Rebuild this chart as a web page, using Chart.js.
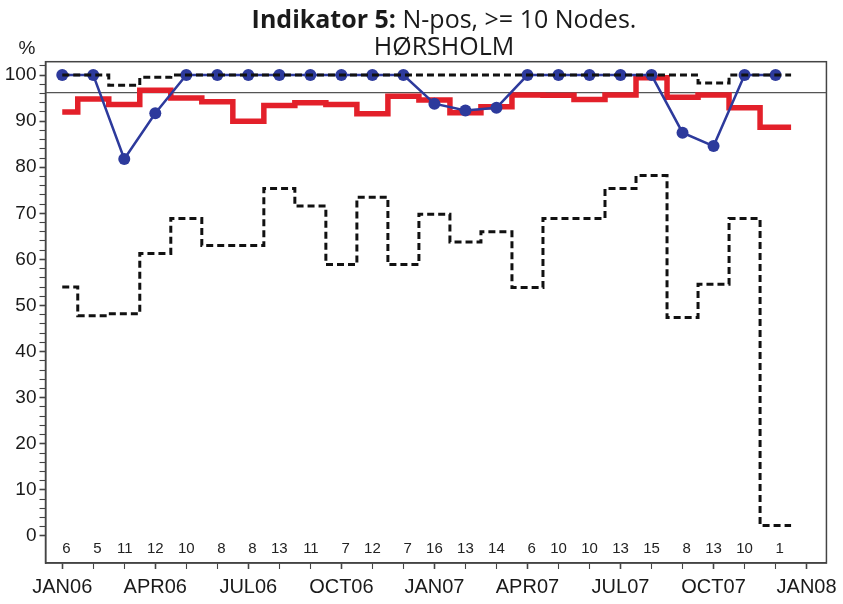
<!DOCTYPE html>
<html>
<head>
<meta charset="utf-8">
<script src="https://cdn.jsdelivr.net/npm/chart.js@4"></script>
<style>
  html, body { margin: 0; padding: 0; background: #fff; }
  #wrap { width: 843px; height: 604px; }
</style>
</head>
<body>
<div id="wrap"><canvas id="graf"></canvas></div>
<script>
// maaneder jan06 - dec07
const maaneder = ['JAN06','FEB06','MAR06','APR06','MAY06','JUN06','JUL06','AUG06','SEP06','OCT06','NOV06','DEC06',
                  'JAN07','FEB07','MAR07','APR07','MAY07','JUN07','JUL07','AUG07','SEP07','OCT07','NOV07','DEC07'];
const tickLabels = ['JAN06','APR06','JUL06','OCT06','JAN07','APR07','JUL07','OCT07','JAN08'];
const antal = [6,5,11,12,10,8,8,13,11,7,12,7,16,13,14,6,10,10,13,15,8,13,10,1];
const hoersholm = [100,100,81.8,91.7,100,100,100,100,100,100,100,100,93.8,92.3,92.9,100,100,100,100,100,87.5,84.6,100,100];
const landet = [92,94.8,93.6,96.7,95,94.2,90,93.4,94,93.6,91.6,95.4,94.6,91.8,93.1,95.7,95.6,94.7,95.7,99.4,95.2,95.7,92.9,88.7];
const maks = [100,100,97.8,99.5,100,100,100,100,100,100,100,100,100,100,100,100,100,100,100,100,100,98.3,100,100];
const mini = [54,47.8,48.2,61.3,68.9,63,63,75.4,71.6,58.9,73.5,58.9,69.8,63.8,66,53.9,68.9,68.9,75.4,78.2,47.4,54.6,68.9,2.3];
const standard = 96.2;

const xMin = -0.54, xMax = 24.64;
const yMin = -5.86, yMax = 102.9;

// trappekurve: hvert punkt midt i sin maaned, sidste trin forlaenges en halv maaned
const trappe = arr => arr.map((v, i) => ({x: i, y: v}))
    .concat([{x: arr.length - 0.5, y: arr[arr.length - 1]}]);
const punkter = arr => arr.map((v, i) => ({x: i, y: v}));

const tekstPlugin = {
    id: 'tekst',
    beforeDatasetsDraw(chart) {
        const {ctx, chartArea: a} = chart;
        ctx.save();
        ctx.strokeStyle = '#444';
        ctx.lineWidth = 1.5;
        ctx.strokeRect(a.left, a.top, a.right - a.left, a.bottom - a.top);
        ctx.restore();
    },
    afterDraw(chart) {
        const {ctx} = chart;
        const xs = chart.scales.x, ys = chart.scales.y;
        ctx.save();
        // titel
        const cx = 444;
        const del1 = 'Indikator 5:', del2 = ' N-pos, >= 10 Nodes.';
        ctx.fillStyle = '#1a1a1a';
        ctx.textBaseline = 'alphabetic';
        ctx.font = 'bold 25px "Open Sans"';
        const w1 = ctx.measureText(del1).width;
        ctx.font = '25px "Open Sans"';
        const w2 = ctx.measureText(del2).width;
        let x0 = cx - (w1 + w2) / 2;
        ctx.textAlign = 'left';
        ctx.font = 'bold 25px "Open Sans"';
        ctx.fillText(del1, x0, 28);
        ctx.font = '25px "Open Sans"';
        ctx.fillText(del2, x0 + w1, 28);
        ctx.textAlign = 'center';
        ctx.fillText('HØRSHOLM', cx, 55);

        // procent
        ctx.font = '19px "Liberation Sans"';
        ctx.fillStyle = '#222';
        ctx.fillText('%', 27, 54);

        // antal pr. maaned
        ctx.font = '15px "Liberation Sans"';
        ctx.textAlign = 'right';
        ctx.textBaseline = 'middle';
        const halv = ctx.measureText('00').width / 2;
        antal.forEach((n, i) => {
            ctx.fillText(String(n), xs.getPixelForValue(i) + halv, ys.getPixelForValue(-2.8));
        });
        ctx.restore();
    }
};

const ctx = document.getElementById('graf').getContext('2d');
new Chart(ctx, {
    type: 'line',
    data: {
        datasets: [
            {   // max
                data: trappe(maks), stepped: 'middle',
                borderColor: '#111', borderWidth: 3, borderDash: [7, 4],
                pointRadius: 0, fill: false
            },
            {   // min
                data: trappe(mini), stepped: 'middle',
                borderColor: '#111', borderWidth: 3, borderDash: [7, 4],
                pointRadius: 0, fill: false
            },
            {   // hoersholm
                data: punkter(hoersholm),
                borderColor: '#2d3a9c', borderWidth: 2.5,
                pointRadius: 6, pointBackgroundColor: '#2d3a9c', pointBorderWidth: 0,
                tension: 0, fill: false
            },
            {   // landet
                data: trappe(landet), stepped: 'middle',
                borderColor: '#e3202a', borderWidth: 5.5,
                pointRadius: 0, fill: false
            },
            {   // standard
                data: [{x: xMin, y: standard}, {x: xMax, y: standard}],
                borderColor: '#555', borderWidth: 1.2,
                pointRadius: 0, fill: false
            }
        ]
    },
    options: {
        responsive: true,
        maintainAspectRatio: false,
        animation: false,
        layout: { padding: { top: 61.7, right: 15.5, left: 0, bottom: 0 } },
        plugins: {
            legend: { display: false },
            tooltip: { enabled: false },
            title: { display: false }
        },
        scales: {
            x: {
                type: 'linear', min: xMin, max: xMax,
                afterBuildTicks: s => { s.ticks = Array.from({length: maaneder.length + 1}, (_, i) => ({value: i})); },
                afterFit: s => { s.height = 41; },
                grid: { drawOnChartArea: false, drawTicks: true, tickLength: 6, tickColor: '#444',
                        tickWidth: c => (c.tick && c.tick.value % 3 === 0) ? 1.6 : 1.1 },
                border: { display: true, color: '#444', width: 1.5 },
                ticks: {
                    autoSkip: false, maxRotation: 0, padding: 6,
                    color: '#1a1a1a', font: { family: 'Liberation Sans', size: 20 },
                    callback: v => v % 3 === 0 ? tickLabels[v / 3] : ''
                }
            },
            y: {
                type: 'linear', min: yMin, max: yMax,
                afterBuildTicks: s => { s.ticks = Array.from({length: 52}, (_, i) => ({value: i * 2})); },
                afterFit: s => { s.width = 45.5; },
                grid: { drawOnChartArea: false, drawTicks: true, tickLength: 6, tickColor: '#444',
                        tickWidth: c => (c.tick && c.tick.value % 10 === 0) ? 1.6 : 1.1 },
                border: { display: true, color: '#444', width: 1.5 },
                ticks: {
                    autoSkip: false, padding: 3,
                    color: '#1a1a1a', font: { family: 'Liberation Sans', size: 19 },
                    callback: v => v % 10 === 0 ? String(v) : ''
                }
            }
        }
    },
    plugins: [tekstPlugin]
});
</script>
</body>
</html>
